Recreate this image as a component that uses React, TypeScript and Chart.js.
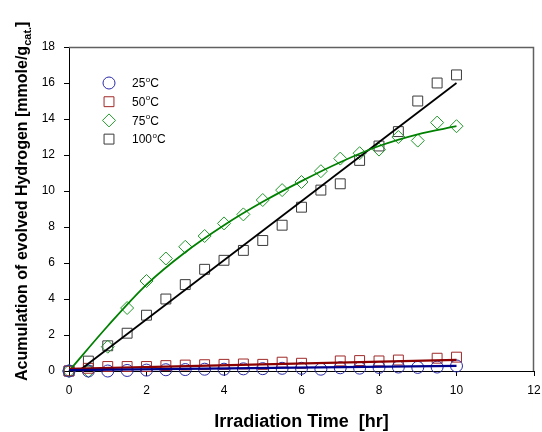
import React, { useEffect, useRef } from 'react';
import { Chart, registerables } from 'chart.js';

Chart.register(...registerables);

// ---- data ----
const timeHr = [0, 0.5, 1, 1.5, 2, 2.5, 3, 3.5, 4, 4.5, 5, 5.5, 6, 6.5, 7, 7.5, 8, 8.5, 9, 9.5, 10];
const h2At25C = [0, 0, 0, 0.03, 0.05, 0.07, 0.08, 0.1, 0.1, 0.12, 0.13, 0.15, 0.15, 0.1, 0.18, 0.16, 0.2, 0.22, 0.2, 0.22, 0.28];
const h2At50C = [0, 0.15, 0.25, 0.25, 0.25, 0.3, 0.33, 0.35, 0.37, 0.39, 0.37, 0.49, 0.43, null, 0.56, 0.58, 0.56, 0.61, null, 0.71, 0.77];
const h2At75C = [0, 0, 1.35, 3.5, 5.0, 6.25, 6.9, 7.5, 8.2, 8.7, 9.5, 10.05, 10.5, 11.1, 11.8, 12.1, 12.3, 13.0, 12.8, 13.8, 13.6];
const h2At100C = [0, 0.55, 1.4, 2.1, 3.1, 4.0, 4.8, 5.65, 6.15, 6.7, 7.25, 8.1, 9.1, 10.05, 10.4, 11.7, 12.5, 13.3, 15.0, 16.0, 16.45];

// fitted curves
const fit25X = [0, 10];
const fit25Y = [0.05, 0.28];
const fit50X = [0, 10];
const fit50Y = [0.12, 0.62];
const fit75X = [0, 1, 2, 3, 4, 5, 6, 7, 8, 9, 10];
const fit75Y = [0, 2.5, 4.8, 6.6, 8.1, 9.4, 10.55, 11.6, 12.5, 13.15, 13.6];
const fit100X = [0.25, 10];
const fit100Y = [0, 16.0];

const xTickValues = [0, 2, 4, 6, 8, 10, 12];
const yTickValues = [0, 2, 4, 6, 8, 10, 12, 14, 16, 18];

const legendTemps = ['25', '50', '75', '100'];
const xTitle = 'Irradiation Time  [hr]';
const yTitleMain = 'Acumulation of evolved Hydrogen [mmole/g';
const yTitleSub = 'cat.';
const yTitleEnd = ']';

const FONT = '"Liberation Sans", Arial, sans-serif';

const markerColors = ['#2a2aa8', '#a02828', '#22982a', '#3a3a3a'];
const lineColors = ['#00008b', '#8b0000', '#008000', '#000000'];
const markerShapes = ['circle', 'rect', 'rectRot', 'rect'];
const markerRadius = [6, 7, 6.5, 7];

const pts = (xs: number[], ys: (number | null)[]) =>
  xs.map((x, i) => ({ x, y: ys[i] })).filter((p) => p.y !== null);

function drawMarker(ctx: CanvasRenderingContext2D, shape: string, x: number, y: number, r: number) {
  ctx.beginPath();
  if (shape === 'circle') {
    ctx.arc(x, y, r, 0, Math.PI * 2);
  } else if (shape === 'rect') {
    const s = r * Math.SQRT1_2;
    ctx.rect(x - s, y - s, 2 * s, 2 * s);
  } else {
    ctx.moveTo(x, y - r);
    ctx.lineTo(x + r, y);
    ctx.lineTo(x, y + r);
    ctx.lineTo(x - r, y);
    ctx.closePath();
  }
  ctx.stroke();
}

const decorPlugin = {
  id: 'decor',
  afterDraw(chart: any) {
    const { ctx, chartArea: a } = chart;
    ctx.save();
    // top / right frame
    ctx.strokeStyle = '#606060';
    ctx.lineWidth = 1.5;
    ctx.beginPath();
    ctx.moveTo(a.left, a.top + 0.5);
    ctx.lineTo(a.right - 0.5, a.top + 0.5);
    ctx.lineTo(a.right - 0.5, a.bottom);
    ctx.stroke();

    // legend
    legendTemps.forEach((t, i) => {
      const y = a.top + 36 + i * 18.7;
      ctx.strokeStyle = markerColors[i];
      ctx.lineWidth = 1;
      drawMarker(ctx, markerShapes[i], a.left + 40, y, markerRadius[i]);
      ctx.fillStyle = '#000';
      ctx.textBaseline = 'middle';
      ctx.textAlign = 'left';
      let x = a.left + 63;
      ctx.font = `12px ${FONT}`;
      ctx.fillText(t, x, y + 1);
      x += ctx.measureText(t).width;
      ctx.font = `8px ${FONT}`;
      ctx.fillText('o', x + 0.5, y - 3.5);
      x += ctx.measureText('o').width + 0.5;
      ctx.font = `12px ${FONT}`;
      ctx.fillText('C', x, y + 1);
    });

    // x title
    ctx.fillStyle = '#000';
    ctx.font = `bold 18px ${FONT}`;
    ctx.textAlign = 'center';
    ctx.textBaseline = 'alphabetic';
    ctx.fillText(xTitle, (a.left + a.right) / 2, 427);

    // y title (rotated, with subscript)
    ctx.save();
    ctx.translate(27, 381);
    ctx.rotate(-Math.PI / 2);
    ctx.textAlign = 'left';
    ctx.font = `bold 16px ${FONT}`;
    let x = 0;
    ctx.fillText(yTitleMain, x, 0);
    x += ctx.measureText(yTitleMain).width;
    ctx.font = `bold 11px ${FONT}`;
    ctx.fillText(yTitleSub, x, 4);
    x += ctx.measureText(yTitleSub).width;
    ctx.font = `bold 16px ${FONT}`;
    ctx.fillText(yTitleEnd, x, 0);
    ctx.restore();

    ctx.restore();
  },
};

export default function App() {
  const ref = useRef<HTMLCanvasElement | null>(null);
  useEffect(() => {
    document.body.style.margin = '0';
    const canvas = ref.current;
    if (!canvas) return;
    const series = [h2At25C, h2At50C, h2At75C, h2At100C];
    const fits = [
      [fit25X, fit25Y],
      [fit50X, fit50Y],
      [fit75X, fit75Y],
      [fit100X, fit100Y],
    ];
    const datasets: any[] = [];
    fits.forEach(([fx, fy], i) => {
      datasets.push({
        type: 'line',
        data: pts(fx as number[], fy as number[]),
        borderColor: lineColors[i],
        backgroundColor: lineColors[i],
        borderWidth: i < 2 ? 2.2 : 1.8,
        pointRadius: 0,
        fill: false,
        showLine: true,
        cubicInterpolationMode: 'monotone',
        order: 0,
        clip: false,
      });
    });
    series.forEach((vals, i) => {
      datasets.push({
        type: 'scatter',
        data: pts(timeHr, vals),
        pointStyle: markerShapes[i],
        pointRadius: markerRadius[i],
        borderColor: markerColors[i],
        backgroundColor: 'rgba(0,0,0,0)',
        borderWidth: 1,
        showLine: false,
        order: 1,
        clip: false,
      });
    });

    const tickFont = { family: FONT, size: 12 };
    const chart = new Chart(canvas, {
      type: 'scatter',
      data: { datasets },
      options: {
        responsive: false,
        animation: false,
        events: [],
        layout: { padding: { top: 47, right: 8, left: 0, bottom: 0 } },
        plugins: { legend: { display: false }, tooltip: { enabled: false } },
        scales: {
          x: {
            type: 'linear',
            min: xTickValues[0],
            max: xTickValues[xTickValues.length - 1],
            afterBuildTicks: (s: any) => {
              s.ticks = xTickValues.map((v) => ({ value: v }));
            },
            ticks: { color: '#000', font: tickFont, padding: 7, maxRotation: 0, autoSkip: false },
            grid: { drawOnChartArea: false, drawTicks: true, tickLength: 5, color: '#000' },
            border: { color: '#000', width: 1 },
            afterFit: (s: any) => {
              s.height = 61;
              s.paddingLeft = 0;
              s.paddingRight = 0;
            },
          },
          y: {
            type: 'linear',
            min: yTickValues[0],
            max: yTickValues[yTickValues.length - 1],
            afterBuildTicks: (s: any) => {
              s.ticks = yTickValues.map((v) => ({ value: v }));
            },
            ticks: { color: '#000', font: tickFont, padding: 9, autoSkip: false },
            grid: { drawOnChartArea: false, drawTicks: true, tickLength: 5, color: '#000' },
            border: { color: '#000', width: 1 },
            afterFit: (s: any) => {
              s.width = 69;
              s.paddingTop = 0;
              s.paddingBottom = 0;
            },
          },
        },
      },
      plugins: [decorPlugin],
    } as any);
    return () => chart.destroy();
  }, []);
  return <canvas ref={ref} width={542} height={432} style={{ display: 'block' }} />;
}
